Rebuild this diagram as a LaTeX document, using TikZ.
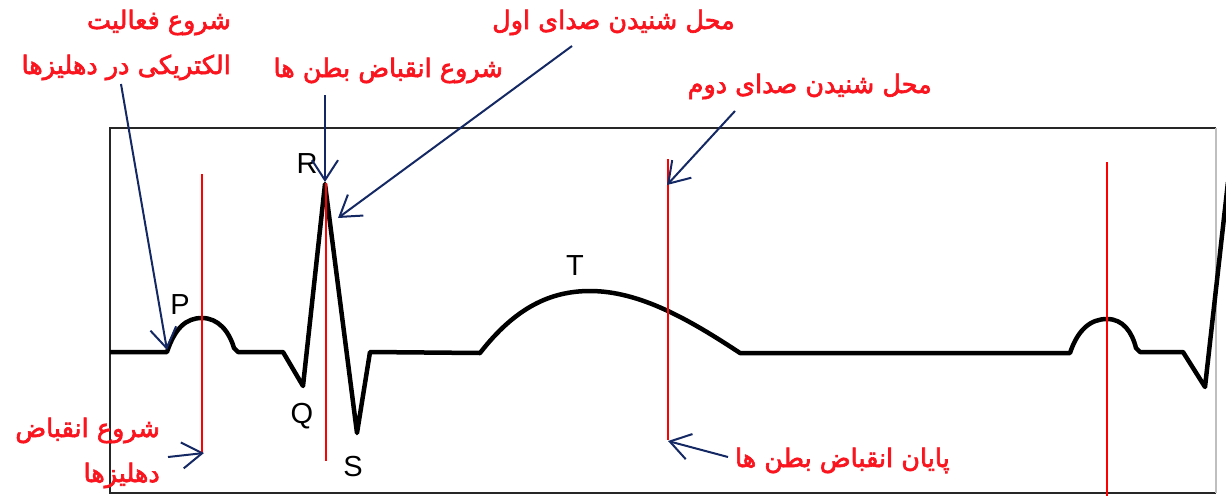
\documentclass[tikz,border=0pt]{standalone}
\usepackage{fontspec}
\setmainfont{Liberation Sans}
\newfontfamily\farsifont[Script=Arabic, FakeBold=2.5]{DejaVu Sans}
\TeXXeTstate=1
\usetikzlibrary{arrows.meta}

\definecolor{ecgred}{RGB}{250,20,30}
\definecolor{ecgblue}{RGB}{20,40,100}

\begin{document}
\begin{tikzpicture}[
    x=1pt, y=-1pt,
    frame/.style={draw=black!85, line width=2.5pt},
    wave/.style={line width=4.5pt, line join=round},
    redline/.style={draw=red, line width=1.8pt},
    pointer/.style={draw=ecgblue, line width=2pt,
                -{Straight Barb[length=20pt, width=26pt]}},
    wavelabel/.style={inner sep=0pt, font=\fontsize{29}{29}\selectfont},
    farsi/.style={text=ecgred, inner sep=0pt, align=right,
                font=\farsifont\fontsize{25.5}{45}\selectfont}
]
\useasboundingbox (0,0) rectangle (1226,496);

\draw[frame] (1216,128) -- (110,128) -- (110,493) -- (1216,493);
\draw[draw=black!25, line width=1.2pt] (1216,128) -- (1216,493);

\draw[wave] (110,352) -- (167,352)
    .. controls (175,328) and (186,318) .. (202,318)
    .. controls (218,318) and (229,331) .. (234,348)
    -- (238,352) -- (283,352) -- (303,386) -- (325,184) -- (357,433)
    -- (370,352) -- (480,353)
    .. controls (515,308) and (550,291) .. (590,291)
    .. controls (640,291) and (690,320) .. (740,353)
    -- (1070,353)
    .. controls (1078,329) and (1091,319) .. (1107,319)
    .. controls (1123,319) and (1132,332) .. (1136,348)
    -- (1140,352) -- (1183,352) -- (1205,387) -- (1228,182);

\node[wavelabel] (p) at (180,305) {P};
\node[wavelabel] (r) at (307,164) {R};
\node[wavelabel] (q) at (302,416) {Q};
\node[wavelabel] (s) at (353,467) {S};
\node[wavelabel] (t) at (575,266) {T};

\draw[redline] (202,174) -- (202,453);
\draw[redline] (326,183) -- (326,461);
\draw[redline] (668,159) -- (668,440);
\draw[redline] (1107,162) -- (1107,496);

\node[farsi, anchor=base east] (atrstart) at (231,74)
    {\beginR شروع  فعالیت\endR\\\beginR الکتریکی در دهلیزها\endR};
\node[farsi, anchor=base east] (ventstart) at (503,77) {\beginR شروع انقباض بطن ها\endR};
\node[farsi, anchor=base east] (firstsound) at (735,29) {\beginR محل شنیدن صدای اول\endR};
\node[farsi, anchor=base east] (secondsound) at (932,93) {\beginR محل شنیدن صدای دوم\endR};
\node[farsi, anchor=base east] (atrcontr) at (160,482)
    {\beginR شروع انقباض\endR\\\beginR دهلیزها\endR};
\node[farsi, anchor=base east] (ventend) at (950,467) {\beginR پایان انقباض بطن ها\endR};

\coordinate (atrstarttail) at (121,84);
\coordinate (atrstarttip) at (167,350);
\coordinate (ventstarttail) at (325,95);
\coordinate (ventstarttip) at (325,182);
\coordinate (firstsoundtail) at (572,46);
\coordinate (firstsoundtip) at (338,218);
\coordinate (secondsoundtail) at (735,111);
\coordinate (secondsoundtip) at (667,185);
\coordinate (atrcontrtail) at (168,457);
\coordinate (atrcontrtip) at (204,453);
\coordinate (ventendtail) at (728,457);
\coordinate (ventendtip) at (668,441);

\draw[pointer] (atrstarttail) -- (atrstarttip);
\draw[pointer] (ventstarttail) -- (ventstarttip);
\draw[pointer] (firstsoundtail) -- (firstsoundtip);
\draw[pointer] (secondsoundtail) -- (secondsoundtip);
\draw[pointer] (atrcontrtail) -- (atrcontrtip);
\draw[pointer] (ventendtail) -- (ventendtip);

\end{tikzpicture}
\end{document}
